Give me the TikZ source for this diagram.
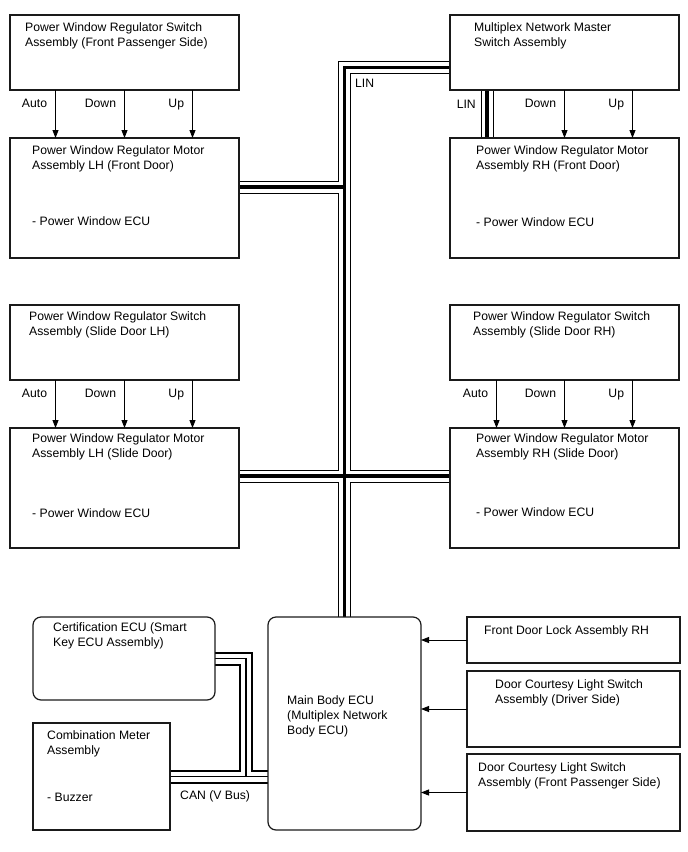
\documentclass[tikz,border=0pt]{standalone}
\usepackage{fontspec}
\setmainfont{Liberation Sans}
\usetikzlibrary{arrows.meta,positioning,calc,backgrounds}
\definecolor{WireInk}{HTML}{000000}
\definecolor{BoxInk}{HTML}{1A1A1A}
\newcommand{\LINbus}[1]{%
  \draw[line width=13pt] #1;
  \draw[line width=11pt,white] #1;
  \draw[line width=3.5pt] #1;}
\newcommand{\CANbus}[1]{%
  \draw[line width=14pt] #1;
  \draw[line width=10pt,white] #1;
  \draw[line width=1.2pt] #1;}
\newcommand{\PWECU}{- Power Window ECU}

\begin{document}
\begin{tikzpicture}[
  x=1pt,y=-1pt,
  font=\fontsize{12.2pt}{15pt}\selectfont,
  box/.style={draw=BoxInk,line width=1.2pt,inner sep=0pt,outer sep=0pt,minimum width=229pt,minimum height=75pt},
  motor/.style={box,minimum height=120pt},
  ecu/.style={box,rounded corners=8pt},
  txt/.style={inner sep=0pt,align=left,text=WireInk},
  lbl/.style={inner sep=0pt,anchor=base east,xshift=-8pt},
  tag/.style={inner sep=0pt},
  sig/.style={draw=WireInk,line width=0.9pt,-{Triangle[length=8pt,width=6pt]}},
]
\useasboundingbox (0,0) rectangle (688,852);

\node[box,anchor=north west] (swfp) at (10,15) {};
\node[motor,below=48pt of swfp] (mtlf) {};
\node[box,below=47pt of mtlf] (swsl) {};
\node[motor,below=48pt of swsl] (mtls) {};
\node[box,right=211pt of swfp] (mst) {};
\node[motor,right=211pt of mtlf] (mtrf) {};
\node[box,right=211pt of swsl] (swsr) {};
\node[motor,right=211pt of mtls] (mtrs) {};

\node[ecu,anchor=north west,minimum width=182pt,minimum height=83pt] (cert) at (33,617) {};
\node[box,anchor=north west,minimum width=137pt,minimum height=107pt] (meter) at (33,723) {};
\node[ecu,anchor=north west,minimum width=153pt,minimum height=213pt] (body) at (268,617) {};
\node[box,anchor=north west,minimum width=213pt,minimum height=46pt] (lock) at (467,617) {};
\node[box,below=8pt of lock,minimum width=213pt,minimum height=76pt] (crtd) {};
\node[box,below=7pt of crtd,minimum width=213pt,minimum height=77pt] (crtp) {};

\node[txt,below right=7.5pt and 15pt of swfp.north west] (swfp-t) {Power Window Regulator Switch\\Assembly (Front Passenger Side)};
\node[txt,below right=7.5pt and 22pt of mtlf.north west] (mtlf-t) {Power Window Regulator Motor\\Assembly LH (Front Door)\\[41pt]\PWECU};
\node[txt,below right=7.5pt and 24pt of mst.north west] (mst-t) {Multiplex Network Master\\Switch Assembly};
\node[txt,below right=7.5pt and 26pt of mtrf.north west] (mtrf-t) {Power Window Regulator Motor\\Assembly RH (Front Door)\\[42pt]\PWECU};
\node[txt,below right=6.5pt and 19pt of swsl.north west] (swsl-t) {Power Window Regulator Switch\\Assembly (Slide Door LH)};
\node[txt,below right=5.5pt and 22pt of mtls.north west] (mtls-t) {Power Window Regulator Motor\\Assembly LH (Slide Door)\\[45pt]\PWECU};
\node[txt,below right=6.5pt and 23pt of swsr.north west] (swsr-t) {Power Window Regulator Switch\\Assembly (Slide Door RH)};
\node[txt,below right=5.5pt and 26pt of mtrs.north west] (mtrs-t) {Power Window Regulator Motor\\Assembly RH (Slide Door)\\[44pt]\PWECU};
\node[txt,below right=5.5pt and 20pt of cert.north west] (cert-t) {Certification ECU (Smart\\Key ECU Assembly)};
\node[txt,below right=7.5pt and 14pt of meter.north west] (meter-t) {Combination Meter\\Assembly\\[32pt]- Buzzer};
\node[txt,below right=78.5pt and 19pt of body.north west] (body-t) {Main Body ECU\\(Multiplex Network\\Body ECU)};
\node[txt,below right=8.5pt and 17pt of lock.north west] (lock-t) {Front Door Lock Assembly RH};
\node[txt,below right=8.5pt and 28pt of crtd.north west] (crtd-t) {Door Courtesy Light Switch\\Assembly (Driver Side)};
\node[txt,below right=8.5pt and 11pt of crtp.north west] (crtp-t) {Door Courtesy Light Switch\\Assembly (Front Passenger Side)};

\draw[sig] ([xshift=-69pt]swfp.south) -- node[lbl,pos=0.36] (a1) {Auto} ([xshift=-69pt]mtlf.north);
\draw[sig] (swfp.south) -- node[lbl,pos=0.36] (d1) {Down} (mtlf.north);
\draw[sig] ([xshift=68pt]swfp.south) -- node[lbl,pos=0.36] (u1) {Up} ([xshift=68pt]mtlf.north);
\draw[sig] (mst.south) -- node[lbl,pos=0.36] (d2) {Down} (mtrf.north);
\draw[sig] ([xshift=68pt]mst.south) -- node[lbl,pos=0.36] (u2) {Up} ([xshift=68pt]mtrf.north);
\draw[sig] ([xshift=-69pt]swsl.south) -- node[lbl,pos=0.36] (a3) {Auto} ([xshift=-69pt]mtls.north);
\draw[sig] (swsl.south) -- node[lbl,pos=0.36] (d3) {Down} (mtls.north);
\draw[sig] ([xshift=68pt]swsl.south) -- node[lbl,pos=0.36] (u3) {Up} ([xshift=68pt]mtls.north);
\draw[sig] ([xshift=-68pt]swsr.south) -- node[lbl,pos=0.36] (a4) {Auto} ([xshift=-68pt]mtrs.north);
\draw[sig] (swsr.south) -- node[lbl,pos=0.36] (d4) {Down} (mtrs.north);
\draw[sig] ([xshift=68pt]swsr.south) -- node[lbl,pos=0.36] (u4) {Up} ([xshift=68pt]mtrs.north);
\draw[sig] (lock.west) -- (lock.west -| body.east);
\draw[sig] (crtd.west) -- (crtd.west -| body.east);
\draw[sig] (crtp.west) -- (crtp.west -| body.east);

\coordinate (linm) at ([yshift=-15pt]mst.west);
\coordinate (linr) at ([xshift=37pt]mst.south west);
\coordinate (lincorner) at (body.north |- linm);
\coordinate (canj) at (246,0 |- meter.east);
\begin{scope}[on background layer]
\LINbus{(linm) -| (body.north) ([yshift=11pt]mtlf.east) -- ([yshift=11pt]mtlf.east -| body.north) ([yshift=12pt]mtls.east) -- ([yshift=12pt]mtrs.west) (linr) -- (linr |- mtrf.north)}
\CANbus{(meter.east) -- (meter.east -| body.west) (cert.east) -| (canj)}
\end{scope}

\node[tag,below right=11.5pt and 10.5pt of lincorner] (lin1) {LIN};
\node[tag,below left=9.5pt and 11pt of linr] (lin2) {LIN};
\node[tag,below right=14pt and 10pt of meter.east] (can) {CAN (V Bus)};
\end{tikzpicture}
\end{document}
